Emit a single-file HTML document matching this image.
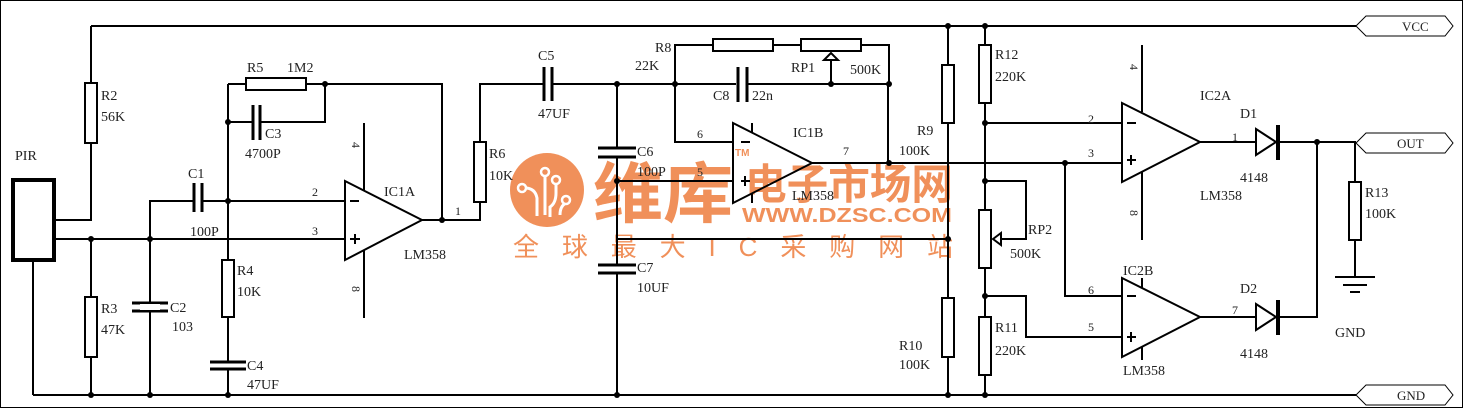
<!DOCTYPE html>
<html><head><meta charset="utf-8"><style>
html,body{margin:0;padding:0;background:#fff}
svg{display:block}
text{font-family:"Liberation Serif",serif;font-size:14px;fill:#222}
text.s{font-size:12px}
text.p{font-size:13px}
.w{font-family:"Liberation Sans","Noto Sans CJK SC",sans-serif;fill:#f0905a;font-weight:bold}
</style></head><body>
<svg width="1463" height="408" viewBox="0 0 1463 408" xmlns="http://www.w3.org/2000/svg">
<rect x="0.5" y="0.5" width="1462" height="407" fill="none" stroke="#000" stroke-width="1"/>
<!-- watermark -->
<g>
<circle cx="547" cy="190" r="37" fill="#f0905a"/>
<g stroke="#fff" stroke-width="3" fill="none">
<path d="M525 188 q10 0 12 10 v18"/><path d="M545 175 v40"/><path d="M556 183 v10 q0 10 -6 14 v10"/><path d="M566 203 q-6 3 -6 12"/>
</g>
<g fill="#f0905a" stroke="#fff" stroke-width="2.5"><circle cx="522" cy="188" r="4"/><circle cx="545" cy="172" r="4"/><circle cx="556" cy="180" r="4"/><circle cx="566" cy="200" r="4"/></g>
<text class="w" x="593" y="217" style="font-size:66px" textLength="140" lengthAdjust="spacingAndGlyphs">维库</text>
<text class="w" x="745" y="199" style="font-size:42px" textLength="208" lengthAdjust="spacingAndGlyphs">电子市场网</text>
<text class="w" x="742" y="222" style="font-size:20px" textLength="210" lengthAdjust="spacingAndGlyphs">WWW.DZSC.COM</text>
<text class="w" x="735" y="156" style="font-size:10px">TM</text>
<text class="w" x="513" y="256" style="font-size:26px;font-weight:normal" textLength="440" lengthAdjust="spacing">全球最大IC采购网站</text>
</g>
<g stroke="#000" stroke-width="2" fill="none">
<path d="M91 26H1356M33 395H1356"/>
<rect x="13" y="180" width="41" height="80" stroke-width="4"/>
<path d="M55 220H91V26M55 239H345M33 262V395"/>
<rect x="85" y="83" width="12" height="60" fill="#fff"/>
<path d="M91 239V395"/><rect x="85" y="297" width="12" height="60" fill="#fff"/>
<path d="M150 395V201H194M202 201H345"/>
<path d="M194 183V212M202 183V212M132 303H168M132 311H168" stroke-width="3"/>
<rect x="140" y="304" width="20" height="6" fill="#fff" stroke="none"/>
<path d="M228 84V362M228 369V395"/>
<rect x="222" y="260" width="12" height="57" fill="#fff"/>
<path d="M210 362H246M210 369H246" stroke-width="3"/>
<path d="M228 84H442V220M228 122H253M260 122H325V84"/>
<rect x="246" y="78" width="60" height="12" fill="#fff"/>
<path d="M253 105V140M260 105V140" stroke-width="3"/>
<path d="M345 181L422 220L345 260Z"/>
<path d="M364 123V190M364 250V318"/>
<path d="M422 220H480V84H544M552 84H888V163"/>
<rect x="474" y="142" width="12" height="60" fill="#fff"/>
<path d="M544 67V101M552 67V101" stroke-width="3"/>
<path d="M617 84V148M617 157V265M617 273V395"/>
<path d="M598 148H636M598 157H636M598 265H636M598 273H636" stroke-width="3"/>
<path d="M617 181H733M617 239H948"/>
<path d="M675 84V45H713M773 45H801M861 45H889V84M675 84V142H733"/>
<rect x="713" y="39" width="60" height="12" fill="#fff"/>
<rect x="801" y="39" width="60" height="12" fill="#fff"/>
<path d="M831 84V60"/><path d="M831 53L824 60H838Z" fill="#fff"/>
<rect x="736" y="80" width="12" height="8" fill="#fff" stroke="none"/>
<path d="M738 67V102M747 67V102" stroke-width="3"/>
<path d="M733 123L812 163L733 203Z"/>
<path d="M752 123V133M752 193V203"/>
<path d="M812 163H1122"/>
<path d="M948 26V395"/>
<rect x="942" y="65" width="12" height="58" fill="#fff"/>
<rect x="942" y="298" width="12" height="59" fill="#fff"/>
<path d="M985 26V395"/>
<rect x="979" y="45" width="12" height="58" fill="#fff"/>
<rect x="979" y="210" width="12" height="58" fill="#fff"/>
<rect x="979" y="317" width="12" height="58" fill="#fff"/>
<path d="M985 123H1122M985 181H1026V239H1000M985 296H1026V337H1122M1065 163V296H1122"/>
<path d="M993 239L1001 233V245Z" fill="#fff"/>
<path d="M1122 103L1200 142L1122 182Z"/>
<path d="M1142 45V112M1142 172V240"/>
<path d="M1122 278L1200 317L1122 357Z"/>
<path d="M1142 278V288M1142 347V360"/>
<path d="M1200 142H1256M1280 142H1356M1200 317H1256M1280 317H1317V142"/>
<path d="M1256 129L1276 142L1256 155Z"/><path d="M1256 304L1276 317L1256 330Z"/>
<path d="M1278 125V160M1278 300V335" stroke-width="4"/>
<path d="M1355 142V277"/>
<rect x="1349" y="182" width="12" height="58" fill="#fff"/>
<path d="M1335 277H1375M1343 285H1367M1350 292H1360"/>
<path d="M350 201H359M350 239H360M355 234V244M1127 123H1136M1127 160H1136M1131 155V165M1127 296H1136M1127 337H1136M1131 332V342M741 142H750M741 181H750M745 176V186"/>
</g>
<g fill="#000">
<circle cx="91" cy="239" r="3"/><circle cx="150" cy="239" r="3"/><circle cx="91" cy="395" r="3"/><circle cx="150" cy="395" r="3"/><circle cx="228" cy="395" r="3"/>
<circle cx="228" cy="122" r="3"/><circle cx="228" cy="201" r="3"/><circle cx="325" cy="84" r="3"/><circle cx="442" cy="220" r="3"/>
<circle cx="617" cy="84" r="3"/><circle cx="675" cy="84" r="3"/><circle cx="831" cy="84" r="3"/><circle cx="889" cy="84" r="3"/><circle cx="889" cy="163" r="3"/>
<circle cx="617" cy="181" r="3"/><circle cx="617" cy="395" r="3"/><circle cx="948" cy="26" r="3"/><circle cx="948" cy="239" r="3"/><circle cx="948" cy="395" r="3"/>
<circle cx="985" cy="26" r="3"/><circle cx="985" cy="123" r="3"/><circle cx="985" cy="181" r="3"/><circle cx="985" cy="296" r="3"/><circle cx="985" cy="395" r="3"/>
<circle cx="1065" cy="163" r="3"/><circle cx="1317" cy="142" r="3"/>
</g>
<g fill="#fff" stroke="#000" stroke-width="1">
<path d="M1356 26L1366 16H1445L1453 26L1445 36H1366Z"/>
<path d="M1356 143L1366 133H1445L1453 143L1445 153H1366Z"/>
<path d="M1356 395L1366 385H1445L1453 395L1445 405H1366Z"/>
</g>
<text class="p" x="1402" y="31">VCC</text>
<text class="p" x="1397" y="148">OUT</text>
<text class="p" x="1397" y="400">GND</text>
<text x="15" y="160">PIR</text>
<text x="101" y="100">R2</text><text x="101" y="121">56K</text>
<text x="101" y="313">R3</text><text x="101" y="334">47K</text>
<text x="188" y="178">C1</text><text x="190" y="236">100P</text>
<text x="170" y="312">C2</text><text x="172" y="331">103</text>
<text x="247" y="72">R5</text><text x="287" y="72">1M2</text>
<text x="265" y="138">C3</text><text x="245" y="158">4700P</text>
<text x="237" y="275">R4</text><text x="237" y="296">10K</text>
<text x="247" y="370">C4</text><text x="247" y="389">47UF</text>
<text class="s" x="312" y="196">2</text><text class="s" x="312" y="235">3</text>
<text x="384" y="196">IC1A</text><text x="404" y="259">LM358</text><text class="s" x="455" y="215">1</text>
<text class="s" x="352" y="150" transform="rotate(90 356 146)">4</text>
<text class="s" x="352" y="294" transform="rotate(90 356 290)">8</text>
<text x="489" y="158">R6</text><text x="489" y="180">10K</text>
<text x="538" y="60">C5</text><text x="538" y="118">47UF</text>
<text x="655" y="52">R8</text><text x="635" y="70">22K</text>
<text x="713" y="100">C8</text><text x="752" y="100">22n</text>
<text x="791" y="72">RP1</text><text x="850" y="74">500K</text>
<text x="637" y="156">C6</text><text x="637" y="176">100P</text>
<text x="637" y="272">C7</text><text x="637" y="292">10UF</text>
<text class="s" x="697" y="138">6</text><text class="s" x="697" y="176">5</text>
<text x="793" y="137">IC1B</text><text class="s" x="843" y="155">7</text><text x="792" y="200">LM358</text>
<text x="917" y="135">R9</text><text x="899" y="155">100K</text>
<text x="899" y="350">R10</text><text x="899" y="369">100K</text>
<text x="995" y="59">R12</text><text x="995" y="81">220K</text>
<text x="1028" y="234">RP2</text><text x="1010" y="258">500K</text>
<text x="995" y="332">R11</text><text x="995" y="355">220K</text>
<text class="s" x="1088" y="123">2</text><text class="s" x="1088" y="157">3</text>
<text class="s" x="1088" y="294">6</text><text class="s" x="1088" y="331">5</text>
<text class="s" x="1130" y="72" transform="rotate(90 1134 68)">4</text>
<text class="s" x="1130" y="218" transform="rotate(90 1134 214)">8</text>
<text x="1200" y="100">IC2A</text><text x="1200" y="200">LM358</text>
<text x="1123" y="275">IC2B</text><text x="1123" y="375">LM358</text>
<text x="1240" y="118">D1</text><text class="s" x="1232" y="141">1</text><text x="1240" y="182">4148</text>
<text x="1240" y="293">D2</text><text class="s" x="1232" y="314">7</text><text x="1240" y="358">4148</text>
<text x="1365" y="197">R13</text><text x="1365" y="218">100K</text>
<text x="1335" y="337">GND</text>
</svg>
</body></html>
